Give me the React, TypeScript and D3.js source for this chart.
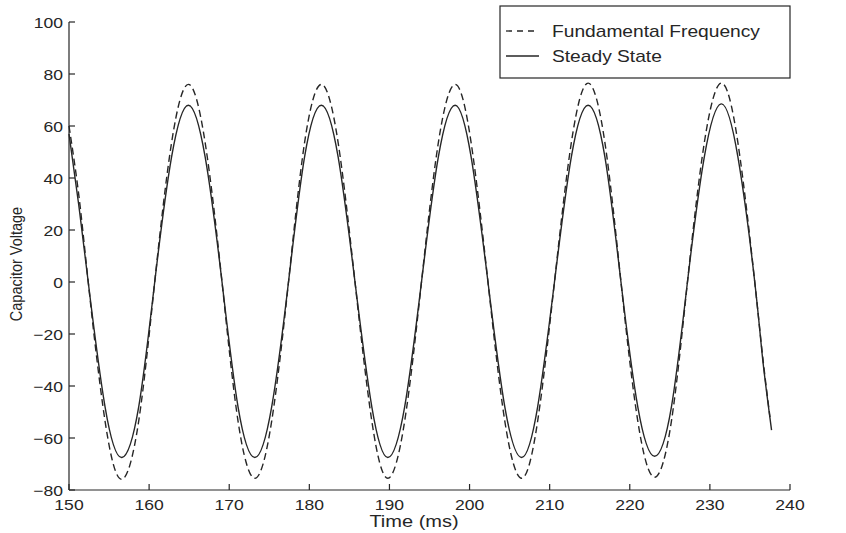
import React from "react";
import * as d3 from "d3";

const xTicks = [150, 160, 170, 180, 190, 200, 210, 220, 230, 240];
const yTicks = [-80, -60, -40, -20, 0, 20, 40, 60, 80, 100];

const steadyT = [150.0, 151.2, 152.4, 154.5, 156.6, 158.7, 160.7, 162.8, 164.9, 167.0, 169.1, 171.1, 173.2, 175.3, 177.4, 179.4, 181.5, 183.6, 185.7, 187.8, 189.8, 191.9, 194.0, 196.1, 198.2, 200.2, 202.3, 204.4, 206.5, 208.5, 210.6, 212.7, 214.8, 216.9, 218.9, 221.0, 223.1, 225.2, 227.2, 229.3, 231.4, 233.5, 235.6, 236.6, 237.7];
const steadyV = [57, 30, 0, -48, -67.5, -48, 0, 48, 68, 48, 0, -48, -67.5, -48, 0, 48, 68, 48, 0, -48, -67.5, -48, 0, 48, 68, 48, 0, -48, -67.5, -48, 0, 48, 68, 48, 0, -48, -67, -48, 0, 48, 68.5, 48, 0, -30, -57];

const fundT = [150.0, 151.2, 152.4, 154.5, 156.6, 158.7, 160.7, 162.8, 164.9, 167.0, 169.1, 171.1, 173.2, 175.3, 177.4, 179.4, 181.5, 183.6, 185.7, 187.8, 189.8, 191.9, 194.0, 196.1, 198.2, 200.2, 202.3, 204.4, 206.5, 208.5, 210.6, 212.7, 214.8, 216.9, 218.9, 221.0, 223.1, 225.2, 227.2, 229.3, 231.4, 233.5, 235.6, 236.6, 237.5];
const fundV = [60, 34, 0, -53.5, -75.9, -53.5, 0, 53.5, 76, 53.5, 0, -53.5, -75.5, -53.5, 0, 53.5, 76, 53.5, 0, -53.5, -75.5, -53.5, 0, 53.5, 76, 53.5, 0, -53.5, -75.5, -53.5, 0, 53.5, 76.5, 53.5, 0, -53.5, -75.1, -53.5, 0, 53.5, 76.5, 53.5, 0, -29, -52];

const legendLabels = ["Fundamental Frequency", "Steady State"];
const xLabel = "Time (ms)";
const yLabel = "Capacitor Voltage";

const FONT = "'Liberation Sans', Arial, Helvetica, sans-serif";
const INK = "#262626";

function Txt({ x, y, size, sx, anchor, children, rotate }: any) {
  return (
    <g transform={`translate(${x},${y}) scale(${sx},1)${rotate ? ` rotate(${rotate})` : ""}`}>
      <text x={0} y={0} fontSize={size} textAnchor={anchor} fill={INK} fontFamily={FONT}>
        {children}
      </text>
    </g>
  );
}

export default function App() {
  const W = 846, H = 533;
  const left = 69, right = 790, top = 22, bottom = 490;
  const x = d3.scaleLinear().domain([150, 240]).range([left, right]);
  const y = d3.scaleLinear().domain([-80, 100]).range([bottom, top]);
  const fmt = d3.format("d");

  const line = d3
    .line<[number, number]>()
    .x((d) => x(d[0]))
    .y((d) => y(d[1]))
    .curve(d3.curveNatural);

  const steady = steadyT.map((t, i) => [t, steadyV[i]] as [number, number]);
  const fund = fundT.map((t, i) => [t, fundV[i]] as [number, number]);

  return (
    <svg width={W} height={H} style={{ position: "absolute", left: 0, top: 0, background: "#fff" }}>
      <rect x={0} y={0} width={W} height={H} fill="#fff" />
      {/* curves */}
      <path d={line(fund) || ""} fill="none" stroke={INK} strokeWidth={1.4} strokeDasharray="7,4" />
      <path d={line(steady) || ""} fill="none" stroke={INK} strokeWidth={1.4} />

      {/* axes */}
      <line x1={left} x2={left} y1={top} y2={bottom} stroke={INK} strokeWidth={1.2} />
      <line x1={left} x2={right} y1={bottom} y2={bottom} stroke={INK} strokeWidth={1.2} />
      {yTicks.map((t) => (
        <g key={"y" + t}>
          <line x1={left} x2={left + 6} y1={y(t)} y2={y(t)} stroke={INK} strokeWidth={1.2} />
          <Txt x={left - 6} y={y(t) + 5.5} size={15} sx={1.17} anchor="end">
            {fmt(t)}
          </Txt>
        </g>
      ))}
      {xTicks.map((t) => (
        <g key={"x" + t}>
          <line x1={x(t)} x2={x(t)} y1={bottom} y2={bottom - 6} stroke={INK} strokeWidth={1.2} />
          <Txt x={x(t)} y={510} size={15} sx={1.17} anchor="middle">
            {fmt(t)}
          </Txt>
        </g>
      ))}
      <Txt x={414} y={527} size={16} sx={1.25} anchor="middle">
        {xLabel}
      </Txt>
      <Txt x={22} y={264} size={14.5} sx={1.2} anchor="middle" rotate={-90}>
        {yLabel}
      </Txt>

      {/* legend */}
      <rect x={500} y={6} width={right - 500} height={72} fill="#fff" stroke={INK} strokeWidth={1.2} />
      <line x1={506} x2={539} y1={31} y2={31} stroke={INK} strokeWidth={1.3} strokeDasharray="6,5" />
      <line x1={506} x2={539} y1={56} y2={56} stroke={INK} strokeWidth={1.3} />
      <Txt x={552} y={37} size={16} sx={1.2} anchor="start">
        {legendLabels[0]}
      </Txt>
      <Txt x={552} y={62} size={16} sx={1.2} anchor="start">
        {legendLabels[1]}
      </Txt>
    </svg>
  );
}
